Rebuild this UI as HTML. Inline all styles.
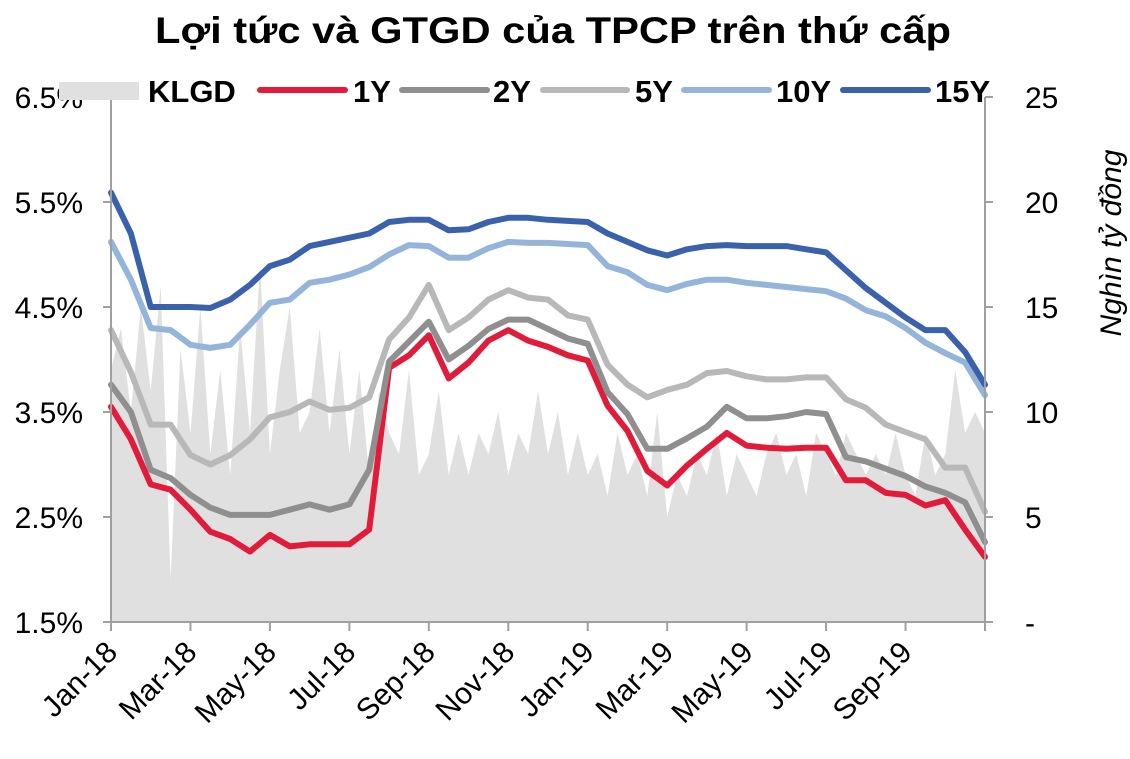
<!DOCTYPE html>
<html><head><meta charset="utf-8"><style>
html,body{margin:0;padding:0;background:#fff;}
svg{display:block;font-family:"Liberation Sans","Noto Sans CJK SC",sans-serif;}
</style></head><body>
<svg id="chart" width="1130" height="759" viewBox="0 0 1130 759" xmlns="http://www.w3.org/2000/svg">
<text x="553" y="43" text-anchor="middle" font-size="37" font-weight="bold" textLength="796" lengthAdjust="spacingAndGlyphs">Lợi tức và GTGD của TPCP trên thứ cấp</text>
<g id="plot"></g>
<g id="axes"></g>
<g id="legend"></g>
</svg>
<script>
// month offsets from Jan-2018 (half-month steps)
const dates = [0,0.5,1,1.5,2,2.5,3,3.5,4,4.5,5,5.5,6,6.5,7,7.5,8,8.5,9,9.5,10,10.5,11,11.5,12,12.5,13,13.5,14,14.5,15,15.5,16,16.5,17,17.5,18,18.5,19,19.5,20,20.5,21,21.5,22];
const y1 = [3.55,3.24,2.81,2.76,2.57,2.36,2.29,2.17,2.33,2.22,2.24,2.24,2.24,2.38,3.92,4.04,4.23,3.82,3.97,4.18,4.28,4.18,4.12,4.04,3.99,3.56,3.32,2.94,2.80,2.99,3.15,3.30,3.18,3.16,3.15,3.16,3.16,2.85,2.85,2.73,2.71,2.61,2.66,2.38,2.12];
const y2 = [3.76,3.50,2.95,2.87,2.71,2.59,2.52,2.52,2.52,2.57,2.62,2.57,2.62,2.95,3.98,4.17,4.36,4.00,4.13,4.29,4.38,4.38,4.29,4.20,4.15,3.69,3.48,3.15,3.15,3.25,3.36,3.55,3.44,3.44,3.46,3.50,3.48,3.07,3.03,2.96,2.89,2.79,2.73,2.64,2.26];
const y5 = [4.28,3.88,3.38,3.38,3.09,3.00,3.09,3.24,3.45,3.50,3.60,3.52,3.54,3.64,4.19,4.40,4.71,4.28,4.40,4.57,4.66,4.59,4.57,4.42,4.38,3.95,3.76,3.64,3.71,3.76,3.87,3.89,3.84,3.81,3.81,3.83,3.83,3.62,3.54,3.38,3.31,3.24,2.97,2.97,2.55];
const y10 = [5.12,4.76,4.30,4.28,4.14,4.11,4.14,4.33,4.54,4.57,4.73,4.76,4.81,4.88,5.00,5.09,5.08,4.97,4.97,5.06,5.12,5.11,5.11,5.10,5.09,4.89,4.83,4.71,4.66,4.72,4.76,4.76,4.73,4.71,4.69,4.67,4.65,4.58,4.47,4.41,4.30,4.16,4.06,3.97,3.66];
const y15 = [5.59,5.20,4.50,4.50,4.50,4.49,4.57,4.71,4.89,4.95,5.08,5.12,5.16,5.20,5.31,5.33,5.33,5.23,5.24,5.31,5.35,5.35,5.33,5.32,5.31,5.20,5.12,5.04,4.99,5.05,5.08,5.09,5.08,5.08,5.08,5.05,5.02,4.85,4.68,4.54,4.40,4.28,4.28,4.07,3.76];
// trading volume (thousand bn VND), quarter-month steps
const klgd = [12,14,10,15,11,16,2,13,9,15,8,12,7,14,9,17,8,12,15,9,10,14,9,13,8,12,7,11,9,8,12,7,8,11,7,9,7,9,8,10,7,9,8,11,8,10,7,9,7,8,6,9,7,8,6,10,5,7,6,8,7,9,6,8,7,6,8,9,7,8,6,9,8,7,9,8,7,8,7,9,7,6,9,7,8,12,9,10,9];
const leftTicks = [1.5,2.5,3.5,4.5,5.5,6.5];
const leftLabels = ["1.5%","2.5%","3.5%","4.5%","5.5%","6.5%"];
const rightTicks = [0,5,10,15,20,25];
const rightLabels = ["-","5","10","15","20","25"];
const xTicks = [0,2,4,6,8,10,12,14,16,18,20,22];
const xLabels = ["Jan-18","Mar-18","May-18","Jul-18","Sep-18","Nov-18","Jan-19","Mar-19","May-19","Jul-19","Sep-19",""];

const X0=111, X1=985, YB=622, YT=97;
const xs = m => X0 + (m/22)*(X1-X0);
const yl = v => YB - (v-1.5)/5*(YB-YT);
const yr = v => YB - v/25*(YB-YT);
const NS="http://www.w3.org/2000/svg";
function mk(tag, attrs, parent){const e=document.createElementNS(NS,tag);for(const k in attrs)e.setAttribute(k,attrs[k]);parent.appendChild(e);return e;}
const plot=document.getElementById('plot'), axes=document.getElementById('axes'), leg=document.getElementById('legend');

let d="M"+xs(0)+","+YB;
klgd.forEach((v,i)=>{d+=" L"+xs(i*22/(klgd.length-1)).toFixed(1)+","+yr(v).toFixed(1);});
d+=" L"+xs(22)+","+YB+" Z";
const area=mk('path',{d:d,fill:"#e0e0e0"},plot);



const series=[["1y",y1,"#e31b3a"],["2y",y2,"#8f8f8f"],["5y",y5,"#b8b8b8"],["10y",y10,"#95b4da"],["15y",y15,"#3a62ac"]];
series.forEach(s=>{
  const pts=s[1].map((v,i)=>xs(dates[i]).toFixed(1)+","+yl(v).toFixed(1)).join(" ");
  const p=mk('polyline',{points:pts,fill:"none",stroke:s[2],"stroke-width":6,"stroke-linejoin":"round","stroke-linecap":"round"},plot);
  
  
});

mk('line',{x1:X0,y1:YT,x2:X0,y2:YB,stroke:"#a0a0a0","stroke-width":2},axes);
mk('line',{x1:X1,y1:YT,x2:X1,y2:YB,stroke:"#a0a0a0","stroke-width":2},axes);
mk('line',{x1:X0,y1:YB,x2:X1,y2:YB,stroke:"#a0a0a0","stroke-width":2},axes);
leftTicks.forEach((v,i)=>{
  mk('line',{x1:X0-8,y1:yl(v),x2:X0,y2:yl(v),stroke:"#a0a0a0","stroke-width":2},axes);
  const t=mk('text',{x:83,y:yl(v)+11,"text-anchor":"end","font-size":30},axes);t.textContent=leftLabels[i];
  
  
});
rightTicks.forEach((v,i)=>{
  mk('line',{x1:X1,y1:yr(v),x2:X1+8,y2:yr(v),stroke:"#a0a0a0","stroke-width":2},axes);
  const t=mk('text',{x:1025,y:yr(v)+11,"font-size":30},axes);t.textContent=rightLabels[i];
  
  
});
xTicks.forEach((m,i)=>{
  mk('line',{x1:xs(m),y1:YB,x2:xs(m),y2:YB+9,stroke:"#a0a0a0","stroke-width":2},axes);
  if(xLabels[i]){
    const t=mk('text',{x:xs(m)+8,y:YB+32,"text-anchor":"end","font-size":30,transform:"rotate(-45 "+(xs(m)+8)+" "+(YB+32)+")"},axes);
    t.textContent=xLabels[i];
    
    
  }
});
const yt=mk('text',{x:1121,y:243,"text-anchor":"middle","font-size":30,"font-style":"italic",transform:"rotate(-90 1121 243)"},axes);
yt.textContent="Nghìn tỷ đồng";



mk('rect',{x:59,y:82,width:80,height:18,fill:"#e0e0e0"},leg);
const legItems=[["KLGD",148,null],["1Y",353,[260,345,"#e31b3a"]],["2Y",493,[402,487,"#8f8f8f"]],["5Y",635,[543,627,"#b8b8b8"]],["10Y",776,[684,769,"#95b4da"]],["15Y",935,[843,928,"#3a62ac"]]];
legItems.forEach(it=>{
  if(it[2]) mk('line',{x1:it[2][0],y1:90,x2:it[2][1],y2:90,stroke:it[2][2],"stroke-width":6,"stroke-linecap":"round"},leg);
  const t=mk('text',{x:it[1],y:102,"font-size":31,"font-weight":"bold"},leg);
  t.textContent=it[0];
  
  
});
</script>
</body></html>
